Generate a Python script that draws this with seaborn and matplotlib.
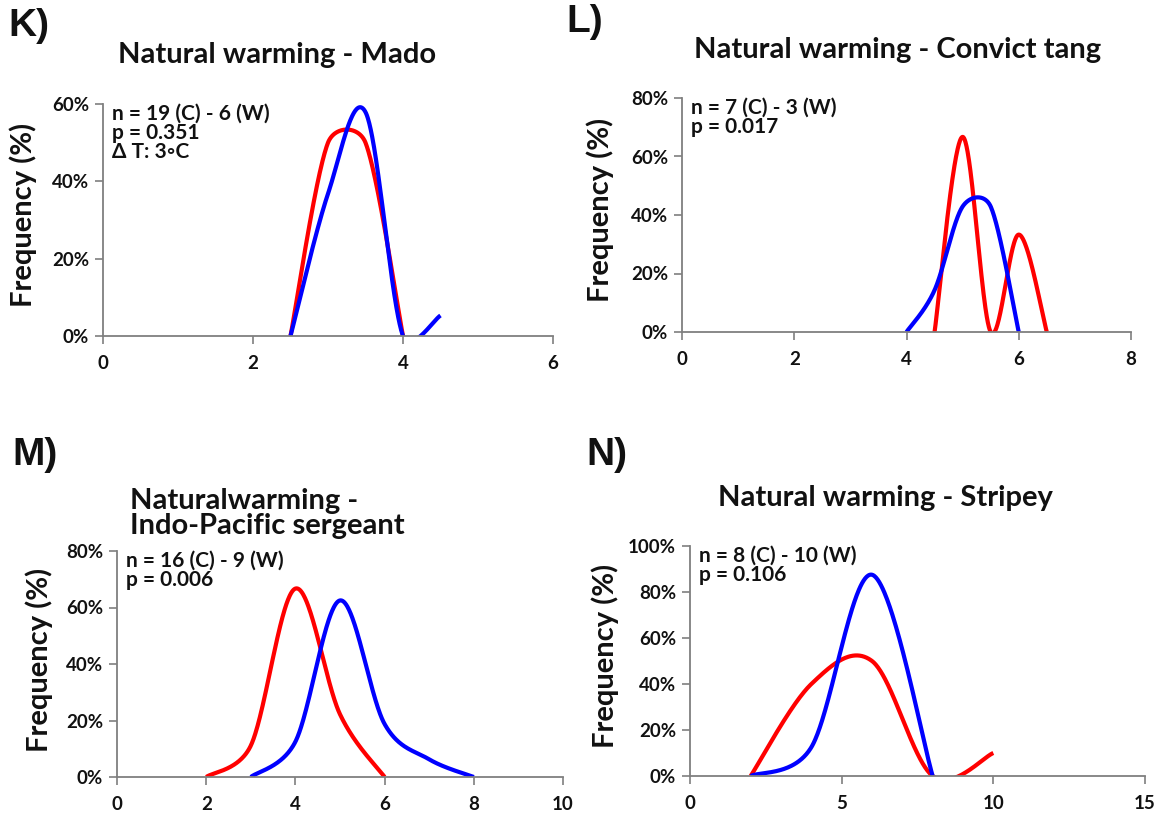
import numpy as np
import pandas as pd
import matplotlib
matplotlib.use("Agg")
import matplotlib.pyplot as plt
from matplotlib.ticker import FuncFormatter, MultipleLocator
import seaborn as sns

sns.set_theme(style="white")
plt.rcParams["font.family"] = ["Lato", "DejaVu Sans"]

W, H = 1165, 817
RED, BLUE = "#ff0000", "#0000ff"

# ---- data: frequency (%) of each size class, warm (W) and control (C) sites ----
mado_x_w = [2.5, 3.0, 3.5, 4.0]
mado_y_w = [0.0, 50.0, 50.0, 0.0]
mado_x_c = [2.5, 3.0, 3.5, 4.0, 4.5]
mado_y_c = [0.0, 36.8, 57.9, 0.0, 5.3]

tang_x_w = [4.5, 5.0, 5.5, 6.0, 6.5]
tang_y_w = [0.0, 66.7, 0.0, 33.3, 0.0]
tang_x_c = [4.0, 4.5, 5.0, 5.5, 6.0]
tang_y_c = [0.0, 14.3, 42.9, 42.9, 0.0]

serg_x_w = [2, 3, 4, 5, 6]
serg_y_w = [0.0, 11.1, 66.7, 22.2, 0.0]
serg_x_c = [3, 4, 5, 6, 7, 8]
serg_y_c = [0.0, 12.5, 62.5, 18.75, 6.25, 0.0]

strp_x_w = [2, 4, 6, 8, 10]
strp_y_w = [0.0, 40.0, 50.0, 0.0, 10.0]
strp_x_c = [2, 4, 6, 8]
strp_y_c = [0.0, 12.5, 87.5, 0.0]

panel_letters = ["K)", "L)", "M)", "N)"]
titles = ["Natural warming - Mado", "Natural warming - Convict tang",
          "Naturalwarming -\nIndo-Pacific sergeant", "Natural warming - Stripey"]
notes = ["n = 19 (C) - 6 (W)\np = 0.351\n\u0394 T: 3\u25e6C",
         "n = 7 (C) - 3 (W)\np = 0.017",
         "n = 16 (C) - 9 (W)\np = 0.006",
         "n = 8 (C) - 10 (W)\np = 0.106"]
x_limits = [(0, 6), (0, 8), (0, 10), (0, 15)]
x_steps = [2, 2, 2, 5]
y_limits = [(0, 60), (0, 80), (0, 80), (0, 100)]

# axes boxes in pixels: left, right, top, bottom
boxes = [(103, 553, 104, 336), (682, 1131, 98, 332),
         (117, 563, 551, 777), (690, 1145, 546, 776)]
# right edge of the rotated y-axis label, pixels
ylabel_x = [37, 614, 53, 619]
letter_pos = [(8, 26), (566, 22), (12, 455), (586, 455)]
title_pos = [(277, 55, "center"), (898, 50, "center"),
             (130, 503, "left"), (885, 498, "center")]


def smooth_curve(ax, xs, ys, n=80):
    """Smoothed line through the points (Bezier, handle length limited per segment)."""
    pts = ax.transData.transform(np.column_stack([xs, ys]).astype(float))
    out = []
    m = len(pts)
    t = np.linspace(0, 1, n)[:, None]
    for i in range(m - 1):
        p0 = pts[i - 1] if i > 0 else pts[i]
        p1, p2 = pts[i], pts[i + 1]
        p3 = pts[i + 2] if i + 2 < m else pts[i + 1]
        d02 = np.linalg.norm(p2 - p0)
        d12 = np.linalg.norm(p2 - p1)
        d13 = np.linalg.norm(p3 - p1)
        f1 = 1 / 6 if d02 / 6 < d12 / 2 else d12 / (2 * d02)
        f2 = 1 / 6 if d13 / 6 < d12 / 2 else d12 / (2 * d13)
        c1 = p1 + f1 * (p2 - p0)
        c2 = p2 - f2 * (p3 - p1)
        seg = ((1 - t) ** 3) * p1 + 3 * ((1 - t) ** 2) * t * c1 \
            + 3 * (1 - t) * t ** 2 * c2 + t ** 3 * p2
        out.append(seg if i == 0 else seg[1:])
    res = ax.transData.inverted().transform(np.vstack(out))
    return pd.DataFrame({"x": res[:, 0], "y": res[:, 1]})


fig = plt.figure(figsize=(W / 100, H / 100), dpi=100)
fig.patch.set_facecolor("white")

series = [
    (mado_x_w, mado_y_w, mado_x_c, mado_y_c),
    (tang_x_w, tang_y_w, tang_x_c, tang_y_c),
    (serg_x_w, serg_y_w, serg_x_c, serg_y_c),
    (strp_x_w, strp_y_w, strp_x_c, strp_y_c),
]

for k in range(4):
    l, r, t_, b = boxes[k]
    ax = fig.add_axes([l / W, 1 - b / H, (r - l) / W, (b - t_) / H])
    ax.set_xlim(*x_limits[k])
    ax.set_ylim(*y_limits[k])
    ax.xaxis.set_major_locator(MultipleLocator(x_steps[k]))
    ax.yaxis.set_major_locator(MultipleLocator(20))
    ax.yaxis.set_major_formatter(FuncFormatter(lambda v, p: f"{v:.0f}%"))

    xw, yw, xc, yc = series[k]
    dw = smooth_curve(ax, xw, yw)
    dc = smooth_curve(ax, xc, yc)
    sns.lineplot(data=dw, x="x", y="y", ax=ax, sort=False, estimator=None,
                 color=RED, lw=3.0, solid_capstyle="butt")
    sns.lineplot(data=dc, x="x", y="y", ax=ax, sort=False, estimator=None,
                 color=BLUE, lw=3.0, solid_capstyle="butt")

    for s in ["top", "right"]:
        ax.spines[s].set_visible(False)
    for s in ["left", "bottom"]:
        ax.spines[s].set_color("#7f7f7f")
        ax.spines[s].set_linewidth(1.3)
    ax.tick_params(axis="both", which="major", direction="out", length=6,
                   width=1.2, color="#7f7f7f", labelsize=13.5,
                   labelcolor="#111111", pad=4, bottom=True, left=True)
    ax.tick_params(axis="x", pad=8)
    for lab in ax.get_xticklabels() + ax.get_yticklabels():
        lab.set_fontweight("bold")
    ax.set_xlabel("")
    ax.set_ylabel("Frequency (%)", fontsize=21, fontweight="bold",
                  color="#111111")
    ax.yaxis.set_label_coords((ylabel_x[k] - l) / (r - l), 0.52)
    ax.text(0.02, 1.0, notes[k], transform=ax.transAxes, ha="left", va="top",
            fontsize=15, fontweight="bold", color="#111111", linespacing=0.95)

    lx, ly = letter_pos[k]
    fig.text(lx / W, 1 - ly / H, panel_letters[k], ha="left", va="center",
             fontsize=28, fontweight="bold", color="#111111",
             family=["Liberation Sans", "DejaVu Sans"])
    tx, ty, ha = title_pos[k]
    if k == 2:
        fig.text(tx / W, 1 - (ty - 15) / H, titles[k], ha="left", va="top",
                 fontsize=21, fontweight="bold", color="#111111",
                 linespacing=0.95)
    else:
        fig.text(tx / W, 1 - ty / H, titles[k], ha=ha, va="center",
                 fontsize=21, fontweight="bold", color="#111111")

fig.savefig("out.png", dpi=100, facecolor="white")
